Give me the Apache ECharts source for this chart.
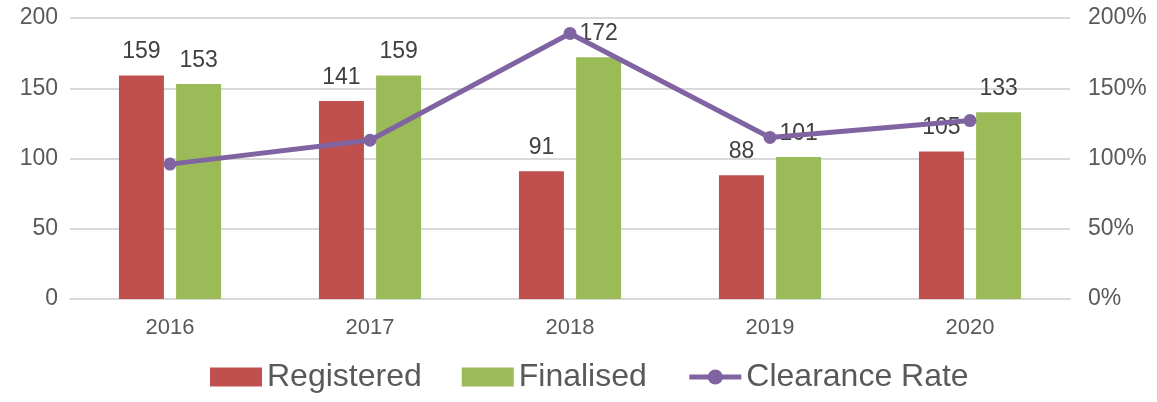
<!DOCTYPE html>
<html>
<head>
<meta charset="utf-8">
<script src="https://cdn.jsdelivr.net/npm/echarts@6/dist/echarts.min.js"></script>
<style>
  html, body { margin: 0; padding: 0; background: #fff; }
  #main { width: 1157px; height: 402px; }
</style>
</head>
<body>
<div id="main"></div>
<script>
// 数据
const years = ['2016', '2017', '2018', '2019', '2020'];
const registered = [159, 141, 91, 88, 105];
const finalised = [153, 159, 172, 101, 133];
const clearanceRate = [96, 113, 189, 115, 127];

var chart = echarts.init(document.getElementById('main'));
var font = 'Liberation Sans, Arial, sans-serif';

var option = {
  animation: false,
  textStyle: { fontFamily: font },
  grid: { left: 70, right: 87, top: 18, bottom: 103 },
  legend: {
    bottom: 4,
    left: 205,
    itemGap: 40,
    itemWidth: 52,
    itemHeight: 19,
    textStyle: { fontSize: 32, color: '#595959', fontFamily: font },
    data: [
      { name: 'Registered', icon: 'rect' },
      { name: 'Finalised', icon: 'rect' },
      { name: 'Clearance Rate', lineStyle: { width: 5 } }
    ]
  },
  xAxis: {
    type: 'category',
    data: years,
    axisLine: { show: true, lineStyle: { color: '#d9d9d9', width: 2 } },
    axisTick: { show: false },
    axisLabel: { fontSize: 22, color: '#595959', margin: 18 }
  },
  yAxis: [
    {
      type: 'value', min: 0, max: 200, interval: 50,
      axisLine: { show: false }, axisTick: { show: false },
      axisLabel: { fontSize: 23, color: '#595959', margin: 12 },
      splitLine: { lineStyle: { color: '#d9d9d9', width: 2 } }
    },
    {
      type: 'value', min: 0, max: 200, interval: 50, position: 'right',
      axisLine: { show: false }, axisTick: { show: false },
      axisLabel: { fontSize: 23, color: '#595959', margin: 18, formatter: '{value}%' },
      splitLine: { show: false }
    }
  ],
  series: [
    {
      name: 'Registered', type: 'bar', data: registered,
      barWidth: 45, barGap: '27%',
      itemStyle: { color: '#C0504D' },
      label: { show: true, position: 'top', distance: 12, fontSize: 23, color: '#404040' }
    },
    {
      name: 'Finalised', type: 'bar', data: finalised,
      barWidth: 45,
      itemStyle: { color: '#9BBB59' },
      label: { show: true, position: 'top', distance: 12, fontSize: 23, color: '#404040' }
    },
    {
      name: 'Clearance Rate', type: 'line', yAxisIndex: 1, data: clearanceRate,
      symbol: 'circle', symbolSize: 13,
      lineStyle: { color: '#8064A2', width: 5 },
      itemStyle: { color: '#8064A2' },
      z: 5
    }
  ]
};

chart.setOption(option);
window.addEventListener('resize', function() { chart.resize(); });
</script>
</body>
</html>
